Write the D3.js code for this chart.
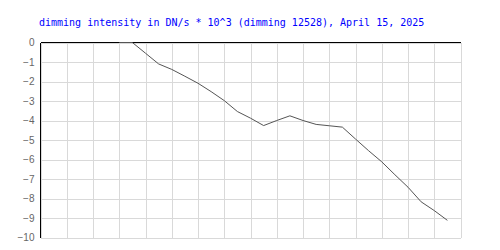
<!DOCTYPE html>
<html>
<head>
<meta charset="utf-8">
<script src="https://cdn.jsdelivr.net/npm/d3@7"></script>
<style>
  body { margin: 0; background: #fff; }
</style>
</head>
<body>
<script>
var width = 500, height = 250;

// sample slots along the (unlabelled) time axis, 2 per grid column
var slots = [6, 7, 8, 9, 10, 11, 12, 13, 14, 15, 16, 17, 18, 19, 20,
             21, 22, 23, 24, 25, 26, 27, 28, 29, 30, 31];
var intensity = [0, 0, -0.55, -1.1, -1.38, -1.73, -2.09, -2.52, -2.98, -3.54,
                 -3.88, -4.26, -4.0, -3.76, -4.0, -4.2, -4.27, -4.34, -4.95,
                 -5.55, -6.12, -6.78, -7.42, -8.17, -8.62, -9.12];
var yTicks = [0, -1, -2, -3, -4, -5, -6, -7, -8, -9, -10];
var xGrid = d3.range(0, 33, 2);
var title = "dimming intensity in DN/s * 10^3 (dimming 12528), April 15, 2025";

var x = d3.scaleLinear().domain([0, 32]).range([40.5, 460.5]);
var y = d3.scaleLinear().domain([-10, 0]).range([237.5, 42.5]);

var svg = d3.select("body").append("svg")
    .attr("width", width).attr("height", height);

svg.append("text")
    .attr("x", 39).attr("y", 26)
    .attr("fill", "#0000ff")
    .style("font-family", "'DejaVu Sans Mono', monospace")
    .style("font-size", "10px")
    .text(title);

var grid = svg.append("g").attr("shape-rendering", "crispEdges");
grid.selectAll(".vg").data(xGrid).enter().append("line")
    .attr("x1", function(d){ return Math.round(x(d)) + 0.5; })
    .attr("x2", function(d){ return Math.round(x(d)) + 0.5; })
    .attr("y1", y(0)).attr("y2", y(-10))
    .attr("stroke", "#d9d9d9");
grid.selectAll(".hg").data(yTicks).enter().append("line")
    .attr("x1", x(0)).attr("x2", x(32))
    .attr("y1", function(d){ return Math.round(y(d)) + 0.5; })
    .attr("y2", function(d){ return Math.round(y(d)) + 0.5; })
    .attr("stroke", "#d9d9d9");

// axes: black top (zero) line and left line
grid.append("line")
    .attr("x1", x(0)).attr("x2", x(32))
    .attr("y1", y(0)).attr("y2", y(0))
    .attr("stroke", "#000");
grid.append("line")
    .attr("x1", x(0)).attr("x2", x(0))
    .attr("y1", y(0)).attr("y2", y(-10))
    .attr("stroke", "#000");

var yAxis = d3.axisLeft(y).tickValues(yTicks).tickSize(0).tickPadding(6);
var ay = svg.append("g").attr("transform", "translate(" + x(0) + ",0)").call(yAxis);
ay.select(".domain").remove();
ay.selectAll("text")
    .attr("fill", "#666")
    .style("font-family", "'Liberation Sans', Arial, sans-serif")
    .style("font-size", "10px");

var pts = slots.map(function(s, i){ return [s, intensity[i]]; });
var line = d3.line()
    .x(function(d){ return x(d[0]); })
    .y(function(d){ return y(d[1]); });
svg.append("path")
    .attr("d", line(pts))
    .attr("fill", "none")
    .attr("stroke", "#555")
    .attr("stroke-width", 1);
</script>
</body>
</html>
